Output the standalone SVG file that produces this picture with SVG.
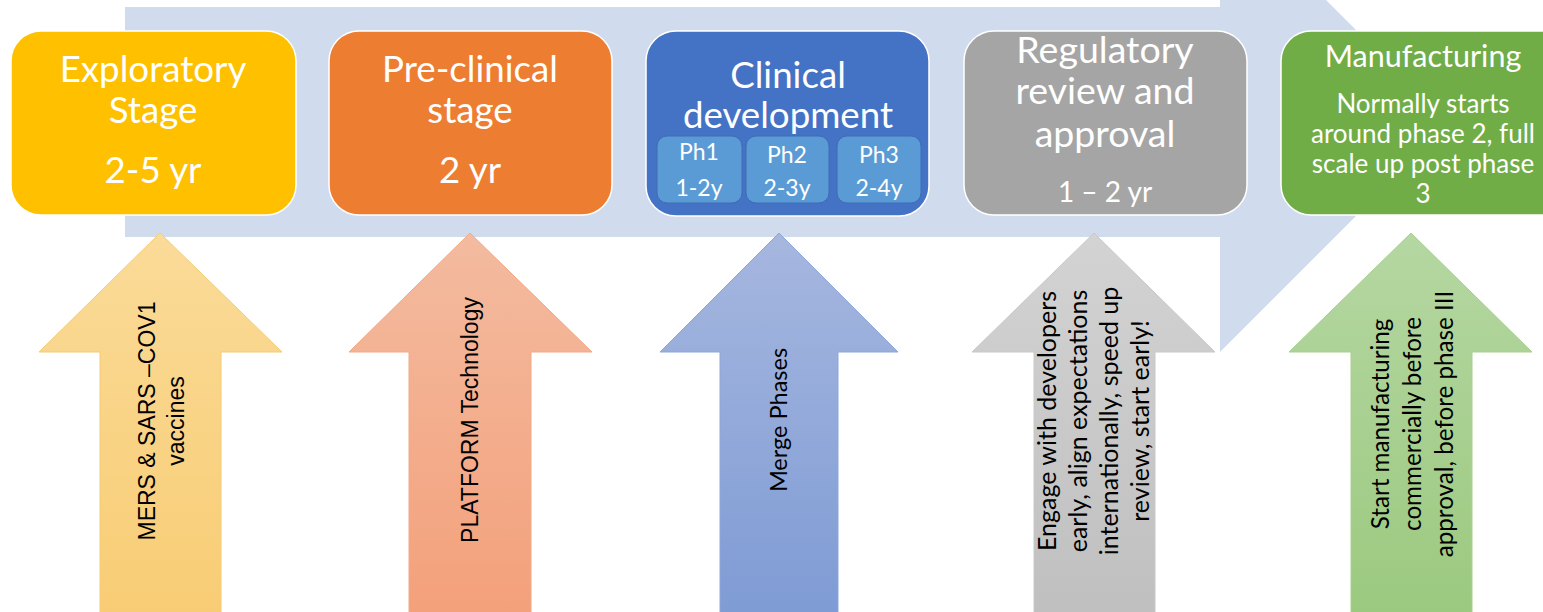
<svg xmlns="http://www.w3.org/2000/svg" width="1543" height="612" viewBox="0 0 1543 612">
<style>
.box{stroke:#fff;stroke-width:1.5}
.t{font-family:Lato,"Noto Sans",sans-serif;fill:#fff;text-anchor:middle}
.ph{fill:#5B9BD5;stroke:#3E6DB5;stroke-width:1}
.ar{stroke-width:1}
.v{font-family:Lato,"Noto Sans",sans-serif;fill:#000;text-anchor:middle}
.va{font-family:"Liberation Sans",Arial,sans-serif;fill:#000;text-anchor:middle}
</style>
<defs>
<linearGradient id="gy" x1="0" y1="0" x2="0" y2="1"><stop offset="0" stop-color="#FADB98"/><stop offset="1" stop-color="#F8CC74"/></linearGradient>
<linearGradient id="go" x1="0" y1="0" x2="0" y2="1"><stop offset="0" stop-color="#F3BBA0"/><stop offset="1" stop-color="#F3A07A"/></linearGradient>
<linearGradient id="gb" x1="0" y1="0" x2="0" y2="1"><stop offset="0" stop-color="#A6B7DF"/><stop offset="1" stop-color="#7E9BD4"/></linearGradient>
<linearGradient id="gg" x1="0" y1="0" x2="0" y2="1"><stop offset="0" stop-color="#D3D3D3"/><stop offset="1" stop-color="#BFBFBF"/></linearGradient>
<linearGradient id="gn" x1="0" y1="0" x2="0" y2="1"><stop offset="0" stop-color="#B5D7A2"/><stop offset="1" stop-color="#9BC97F"/></linearGradient>
</defs>
<g id="background-arrow">
<path d="M125,7 H1220 V-106 L1449,123 L1220,352 V237 H125 Z" fill="#D0DCEE"/>
</g>
<g id="exploratory">
<rect class="box" x="11" y="31" width="285" height="184" rx="30" fill="#FFC000"/>
<text class="t" font-size="36.7"><tspan x="153" y="82">Exploratory</tspan><tspan x="153" y="123">Stage</tspan><tspan x="153" y="183">2-5 yr</tspan></text>
</g>
<g id="preclinical">
<rect class="box" x="329" y="31" width="283" height="184" rx="30" fill="#ED7D31"/>
<text class="t" font-size="36.7"><tspan x="470" y="82">Pre-clinical</tspan><tspan x="470" y="123">stage</tspan><tspan x="470" y="183">2 yr</tspan></text>
</g>
<g id="clinical">
<rect class="box" x="646" y="31" width="283" height="185" rx="30" fill="#4472C4"/>
<text class="t" font-size="36.7"><tspan x="788" y="88">Clinical</tspan><tspan x="788" y="128">development</tspan></text>
<g id="ph1"><rect class="ph" x="657" y="136" width="85" height="67" rx="10"/><text class="t" font-size="23"><tspan x="699" y="160">Ph1</tspan><tspan x="699" y="196">1-2y</tspan></text></g>
<g id="ph2"><rect class="ph" x="746" y="136" width="83" height="67" rx="10"/><text class="t" font-size="23"><tspan x="787" y="163">Ph2</tspan><tspan x="787" y="196">2-3y</tspan></text></g>
<g id="ph3"><rect class="ph" x="837" y="136" width="84" height="67" rx="10"/><text class="t" font-size="23"><tspan x="879" y="163">Ph3</tspan><tspan x="879" y="196">2-4y</tspan></text></g>
</g>
<g id="regulatory">
<rect class="box" x="964" y="31" width="283" height="184" rx="30" fill="#A5A5A5"/>
<text class="t" font-size="37.5"><tspan x="1105" y="63">Regulatory</tspan><tspan x="1105" y="104">review and</tspan><tspan x="1105" y="147">approval</tspan></text>
<text class="t" font-size="28" x="1105" y="202">1 – 2 yr</text>
</g>
<g id="manufacturing">
<rect class="box" x="1281" y="31" width="290" height="184" rx="30" fill="#70AD47"/>
<text class="t" font-size="30.5" x="1423" y="67">Manufacturing</text>
<text class="t" font-size="26"><tspan x="1423" y="113">Normally starts</tspan><tspan x="1423" y="143">around phase 2, full</tspan><tspan x="1423" y="173">scale up post phase</tspan><tspan x="1423" y="203">3</tspan></text>
</g>
<g id="up-arrows">
<g id="arrow-mers">
<path class="ar" d="M160,233 L282,352 H221 V620 H100 V352 H39 Z" fill="url(#gy)" stroke="#F5CB73"/>
<g transform="translate(160,421) rotate(-90)"><text class="va" font-size="23"><tspan x="0" y="-5">MERS &amp; SARS –COV1</tspan><tspan x="0" y="24">vaccines</tspan></text></g>
</g>
<g id="arrow-platform">
<path class="ar" d="M470,233 L592,352 H531 V620 H409 V352 H349 Z" fill="url(#go)" stroke="#F0A986"/>
<g transform="translate(470,420) rotate(-90)"><text class="va" font-size="23" x="0" y="8">PLATFORM Technology</text></g>
</g>
<g id="arrow-merge">
<path class="ar" d="M779,233 L898,352 H838 V620 H720 V352 H660 Z" fill="url(#gb)" stroke="#8FA6D8"/>
<g transform="translate(779,420) rotate(-90)"><text class="v" font-size="23.5" x="0" y="8">Merge Phases</text></g>
</g>
<g id="arrow-engage">
<path class="ar" d="M1094,233 L1215,352 H1155 V620 H1034 V352 H972 Z" fill="url(#gg)" stroke="#C8C8C8"/>
<g transform="translate(1095,421) rotate(-90)"><text class="v" font-size="25"><tspan x="0" y="-39">Engage with developers</tspan><tspan x="0" y="-8">early, align expectations</tspan><tspan x="0" y="23">internationally, speed up</tspan><tspan x="0" y="54">review, start early!</tspan></text></g>
</g>
<g id="arrow-start">
<path class="ar" d="M1411,233 L1532,352 H1472 V620 H1351 V352 H1289 Z" fill="url(#gn)" stroke="#A8D08E"/>
<g transform="translate(1411,424) rotate(-90)"><text class="v" font-size="24.2"><tspan x="0" y="-22">Start manufacturing</tspan><tspan x="0" y="10">commercially before</tspan><tspan x="0" y="42">approval, before phase III</tspan></text></g>
</g>
</g>
</svg>
